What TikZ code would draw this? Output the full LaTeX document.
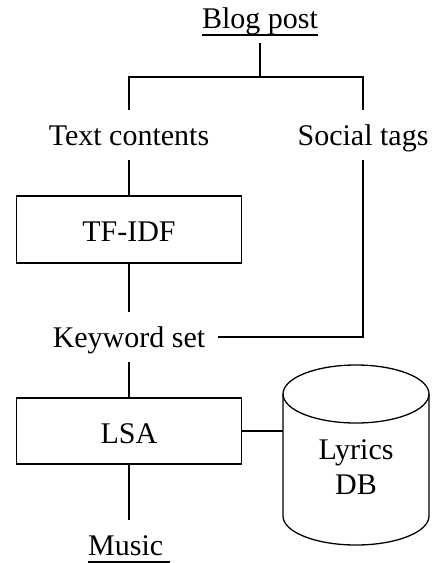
\documentclass[tikz,border=0pt]{standalone}
\usepackage{fontspec}
\setmainfont{Liberation Serif}
\begin{document}
\begin{tikzpicture}[x=1pt,y=-1pt,
  every node/.style={font=\fontsize{30}{35}\selectfont},
  lbl/.style={inner xsep=13pt, inner ysep=15pt, text height=20pt, text depth=0pt, anchor=base},
  ulbl/.style={lbl, inner xsep=0pt},
  procbox/.style={draw, line width=1.3pt, minimum width=225pt, minimum height=67pt, inner sep=0pt, text height=24pt, text depth=0pt},
  conn/.style={line width=1.3pt}]
\useasboundingbox (0,0) rectangle (436,563);

\node[ulbl] (blog) at (260,28) {Blog post};
\node[lbl] (tc) at (129,145) {Text contents};
\node[lbl] (st) at (363,145) {Social tags};
\node[procbox] (tfidf) at (129,229.5) {TF-IDF};
\node[lbl] (kw) at (129,347) {Keyword set};
\node[procbox, minimum height=66pt] (lsa) at (129,431) {LSA};
\node[ulbl, anchor=base west] (music) at (88,555) {Music};

% cylinder
\draw[conn] (283,394) -- (283,516) arc[start angle=180, end angle=360, x radius=73pt, y radius=29pt] -- (429,394);
\draw[conn] (356,394) ellipse [x radius=73pt, y radius=29pt];
\node[align=center, inner sep=0pt] (db) at (356,467.5) {Lyrics\\DB};
\coordinate (dbl) at (283,431);

% underlines
\draw[conn] ([yshift=-7pt]blog.base west) -- ([yshift=-7pt]blog.base east);
\draw[conn] ([yshift=-7pt]music.base west) -- ([xshift=7pt,yshift=-7pt]music.base east);

% connectors
\coordinate (j) at (260,77);
\draw[conn] (blog.south) -- (j);
\draw[conn] (tc.north) |- (j) -| (st.north);
\draw[conn] (tc.south) -- (tfidf.north);
\draw[conn] (tfidf.south) -- (kw.north);
\draw[conn] (st.south) |- (kw.east);
\draw[conn] (kw.south) -- (lsa.north);
\draw[conn] (lsa.east) -- (dbl);
\draw[conn] (lsa.south) -- (lsa.south |- music.north);
\end{tikzpicture}
\end{document}
